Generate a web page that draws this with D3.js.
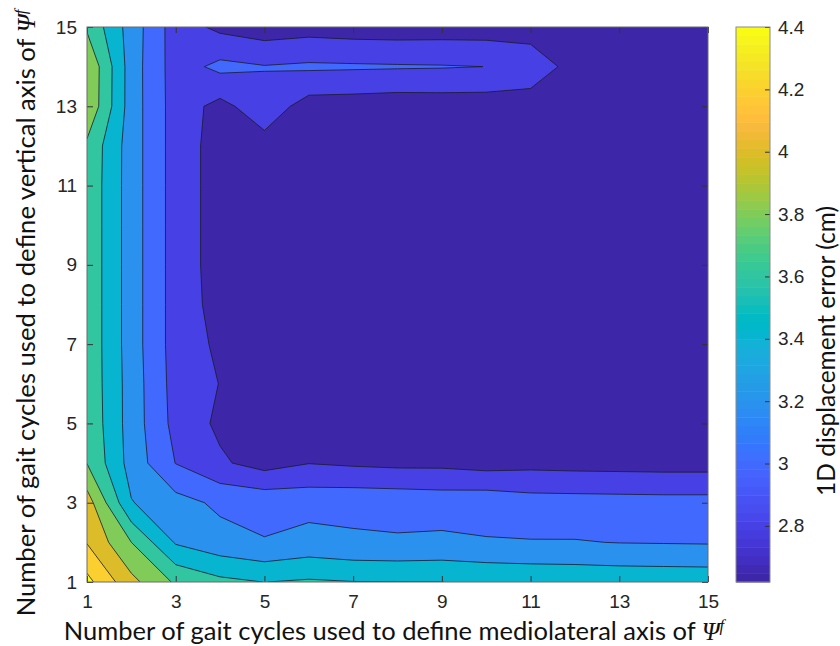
<!DOCTYPE html>
<html>
<head>
<meta charset="utf-8">
<script src="https://cdn.jsdelivr.net/npm/d3@7"></script>
<style>
  body { margin: 0; background: #fff; }
  .tick text { font-family: "Liberation Sans", Arial, sans-serif; fill: #262626; }
  .label { font-family: Lato, "Open Sans", sans-serif; fill: #111; }
  .sym { font-family: "Liberation Serif", "DejaVu Serif", serif; font-style: italic; }
</style>
</head>
<body>
<svg id="chart" width="840" height="646"></svg>
<script>
// gait cycles on each axis
let cyclesX = d3.range(1, 16);
let cyclesY = d3.range(1, 16);
let axisTicks = [1, 3, 5, 7, 9, 11, 13, 15];
let levels = [2.8, 3.0, 3.2, 3.4, 3.6, 3.8, 4.0, 4.2, 4.4];
let colorLimits = [2.62, 4.4];
let colorbarTicks = [2.8, 3, 3.2, 3.4, 3.6, 3.8, 4, 4.2, 4.4];

// 1D displacement error (cm), one row per vertical-axis cycle count (1 at the top of this list)
let errY1  = [4.46, 4.057, 3.771, 3.649, 3.598, 3.625, 3.605, 3.602, 3.601, 3.58, 3.56, 3.55, 3.54, 3.535, 3.53];
let errY2  = [4.19, 3.80, 3.38, 3.272, 3.21, 3.268, 3.232, 3.221, 3.236, 3.212, 3.21, 3.21, 3.195, 3.19, 3.185];
let errY3  = [4.096, 3.41, 3.272, 3.161, 3.139, 3.132, 3.141, 3.133, 3.116, 3.13, 3.085, 3.08, 3.075, 3.07, 3.07];
let errY4  = [3.795, 3.32, 2.995, 2.83, 2.72, 2.795, 2.77, 2.753, 2.753, 2.72, 2.74, 2.73, 2.725, 2.72, 2.72];
let errY5  = [3.76, 3.31, 2.935, 2.76, 2.69, 2.70, 2.69, 2.68, 2.68, 2.67, 2.67, 2.67, 2.66, 2.66, 2.66];
let errY6  = [3.75, 3.31, 2.92, 2.795, 2.68, 2.67, 2.66, 2.66, 2.65, 2.65, 2.65, 2.65, 2.64, 2.64, 2.64];
let errY7  = [3.75, 3.30, 2.91, 2.763, 2.67, 2.66, 2.65, 2.65, 2.64, 2.64, 2.64, 2.64, 2.64, 2.63, 2.63];
let errY8  = [3.75, 3.30, 2.91, 2.727, 2.67, 2.65, 2.64, 2.64, 2.63, 2.63, 2.63, 2.63, 2.63, 2.63, 2.63];
let errY9  = [3.75, 3.30, 2.91, 2.714, 2.67, 2.65, 2.64, 2.63, 2.62, 2.63, 2.63, 2.63, 2.63, 2.63, 2.63];
let errY10 = [3.75, 3.30, 2.91, 2.714, 2.67, 2.65, 2.64, 2.64, 2.63, 2.63, 2.63, 2.63, 2.63, 2.63, 2.63];
let errY11 = [3.75, 3.30, 2.91, 2.714, 2.68, 2.66, 2.65, 2.64, 2.64, 2.64, 2.64, 2.64, 2.64, 2.64, 2.64];
let errY12 = [3.76, 3.30, 2.91, 2.714, 2.72, 2.68, 2.67, 2.66, 2.66, 2.66, 2.66, 2.66, 2.65, 2.65, 2.65];
let errY13 = [3.98, 3.30, 2.91, 2.737, 2.925, 2.71, 2.70, 2.683, 2.69, 2.69, 2.694, 2.69, 2.68, 2.68, 2.68];
let errY14 = [3.99, 3.30, 2.905, 3.052, 3.01, 3.032, 3.025, 3.018, 3.012, 2.999, 2.93, 2.72, 2.70, 2.69, 2.69];
let errY15 = [3.77, 3.31, 2.90, 2.752, 2.69, 2.72, 2.70, 2.693, 2.70, 2.70, 2.70, 2.69, 2.68, 2.68, 2.68];
let errorRows = [errY1, errY2, errY3, errY4, errY5, errY6, errY7, errY8, errY9, errY10, errY11, errY12, errY13, errY14, errY15];

// MATLAB parula, 64 entries
let parula = ['#3e26a8','#402ab4','#422ec0','#4332cb','#4537d5','#463cde','#4741e5','#4747eb',
  '#484df0','#4852f4','#4758f8','#465efb','#4563fd','#4269fe','#3e6fff','#3875fe',
  '#327cfc','#2f81fa','#2e87f7','#2d8cf3','#2b91ef','#2797eb','#259be8','#23a0e5',
  '#20a5e3','#1ca9df','#18addb','#12b1d6','#08b5d0','#01b8ca','#02bac3','#0bbdbd',
  '#19bfb6','#24c1ae','#2cc4a7','#31c69f','#37c897','#3fca8e','#4acb84','#57cc7a',
  '#64cd6f','#72cd64','#81cc59','#8fcb4e','#9dc943','#abc739','#b9c431','#c5c22a',
  '#d1bf27','#dcbd29','#e6bb2d','#f0ba36','#f8ba3d','#febe3c','#fec338','#fec934',
  '#fccf30','#fad62d','#f7dc2a','#f5e327','#f5e924','#f6ef20','#f7f51b','#f9fb15'];

let plot = {left: 87, right: 708, top: 27, bottom: 582};
let cb = {left: 736, right: 770};

let svg = d3.select('#chart');

let x = d3.scaleLinear().domain([1, 15]).range([plot.left, plot.right]);
let y = d3.scaleLinear().domain([1, 15]).range([plot.bottom, plot.top]);
let cIndex = d3.scaleLinear().domain(colorLimits).range([0, parula.length]);
let colorOf = (v) => parula[Math.max(0, Math.min(parula.length - 1, Math.floor(cIndex(v))))];

svg.append('defs').append('clipPath').attr('id', 'plotClip')
    .append('rect')
        .attr('x', plot.left).attr('y', plot.top)
        .attr('width', plot.right - plot.left).attr('height', plot.bottom - plot.top);

let field = svg.append('g').attr('clip-path', 'url(#plotClip)');

// region below the lowest level
field.append('rect')
    .attr('x', plot.left).attr('y', plot.top)
    .attr('width', plot.right - plot.left).attr('height', plot.bottom - plot.top)
    .attr('fill', colorOf(colorLimits[0]));

let values = errorRows.flat();
let contours = d3.contours()
    .size([cyclesX.length, cyclesY.length])
    .thresholds(levels)(values);

// grid cell centres sit at +0.5 in contour coordinates
let toPlot = d3.geoTransform({
    point: function(px, py) { this.stream.point(x(px + 0.5), y(py + 0.5)); }
});
let path = d3.geoPath(toPlot);

field.selectAll('.band')
        .data(contours)
    .enter().append('path')
        .attr('class', 'band')
        .attr('d', path)
        .attr('fill', (d) => colorOf(d.value))
        .attr('stroke', '#1b1b2b')
        .attr('stroke-width', 0.8)
        .attr('stroke-linejoin', 'round');

// axes, ticks pointing inward on all four sides
let styleAxis = (g) => {
    g.select('.domain').remove();
    g.selectAll('.tick line').attr('stroke', '#333');
    g.selectAll('.tick text').attr('font-size', 19);
};

svg.append('g')
    .attr('transform', 'translate(0,' + plot.bottom + ')')
    .call(d3.axisBottom(x).tickValues(axisTicks).tickSizeInner(-6).tickSizeOuter(0).tickPadding(13))
    .call(styleAxis);

svg.append('g')
    .attr('transform', 'translate(' + plot.left + ',0)')
    .call(d3.axisLeft(y).tickValues(axisTicks).tickSizeInner(-6).tickSizeOuter(0).tickPadding(10))
    .call(styleAxis);

svg.append('g')
    .attr('transform', 'translate(0,' + plot.top + ')')
    .call(d3.axisTop(x).tickValues(axisTicks).tickSizeInner(-6).tickSizeOuter(0).tickFormat(''))
    .call(styleAxis);

svg.append('g')
    .attr('transform', 'translate(' + plot.right + ',0)')
    .call(d3.axisRight(y).tickValues(axisTicks).tickSizeInner(-6).tickSizeOuter(0).tickFormat(''))
    .call(styleAxis);

svg.append('rect')
    .attr('x', plot.left).attr('y', plot.top)
    .attr('width', plot.right - plot.left).attr('height', plot.bottom - plot.top)
    .attr('fill', 'none').attr('stroke', '#6b6b6b').attr('stroke-width', 1);

// colorbar
let cbScale = d3.scaleLinear().domain(colorLimits).range([plot.bottom, plot.top]);
let steps = d3.range(parula.length).map((i) => colorLimits[0] + (colorLimits[1] - colorLimits[0]) * i / parula.length);
let stepSize = (colorLimits[1] - colorLimits[0]) / parula.length;

svg.append('g').selectAll('rect')
        .data(steps)
    .enter().append('rect')
        .attr('x', cb.left)
        .attr('width', cb.right - cb.left)
        .attr('y', (d) => cbScale(d + stepSize))
        .attr('height', (d) => cbScale(d) - cbScale(d + stepSize) + 0.5)
        .attr('fill', (d, i) => parula[i]);

svg.append('g')
    .attr('transform', 'translate(' + cb.right + ',0)')
    .call(d3.axisRight(cbScale).tickValues(colorbarTicks).tickSizeInner(-5).tickSizeOuter(0).tickPadding(8)
        .tickFormat((d) => String(d)))
    .call(styleAxis);

svg.append('rect')
    .attr('x', cb.left).attr('y', plot.top)
    .attr('width', cb.right - cb.left).attr('height', plot.bottom - plot.top)
    .attr('fill', 'none').attr('stroke', '#8a8a8a').attr('stroke-width', 1);

// axis titles, sized to span the same width as in the figure
let fitText = (t, target) => {
    let len = t.node().getComputedTextLength();
    t.attr('font-size', 22 * target / len);
};

let addTitle = (txt, tx, ty, rotate, target, withPsi) => {
    let t = svg.append('text')
        .attr('class', 'label')
        .attr('text-anchor', 'middle')
        .attr('font-size', 22)
        .attr('transform', 'translate(' + tx + ',' + ty + ')' + (rotate ? ' rotate(-90)' : ''));
    t.append('tspan').text(txt);
    if (withPsi) {
        t.append('tspan').attr('class', 'sym').text('\u03A8');
        t.append('tspan').attr('class', 'sym').style('font-size', '65%')
            .attr('dy', '-0.55em').text('f');
    }
    fitText(t, target);
};

addTitle('Number of gait cycles used to define mediolateral axis of ', 394, 640, false, 661, true);
addTitle('Number of gait cycles used to define vertical axis of ', 35, 313, true, 607, true);
addTitle('1D displacement error (cm)', 835, 351, true, 290, false);
</script>
</body>
</html>
